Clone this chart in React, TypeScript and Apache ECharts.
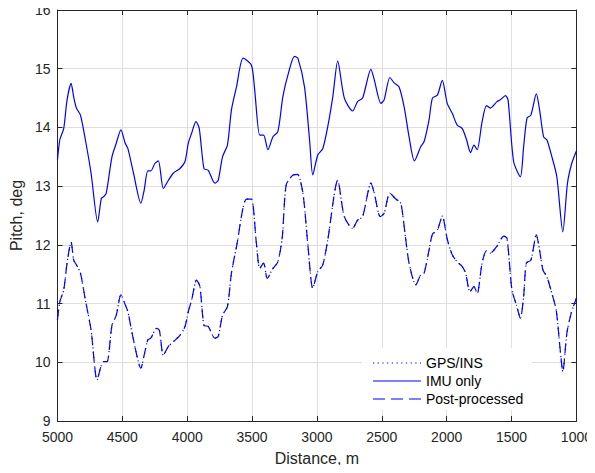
import React, { useEffect, useRef } from "react";
import * as echarts from "echarts";

const imuDist = [5000, 4982, 4952, 4926, 4895, 4875, 4854, 4823, 4785, 4741, 4690, 4662, 4644, 4624, 4580, 4547, 4511, 4478, 4457, 4414, 4357, 4332, 4304, 4281, 4248, 4222, 4184, 4145, 4107, 4056, 4017, 3992, 3966, 3933, 3907, 3871, 3838, 3787, 3761, 3728, 3690, 3659, 3620, 3569, 3505, 3480, 3441, 3411, 3378, 3339, 3301, 3263, 3224, 3173, 3147, 3096, 3057, 3032, 2994, 2955, 2917, 2878, 2840, 2789, 2725, 2687, 2648, 2584, 2558, 2507, 2482, 2438, 2405, 2367, 2328, 2290, 2249, 2200, 2174, 2136, 2110, 2072, 2034, 1996, 1957, 1919, 1880, 1847, 1816, 1790, 1765, 1727, 1693, 1663, 1612, 1586, 1547, 1527, 1484, 1432, 1407, 1381, 1351, 1309, 1284, 1253, 1228, 1189, 1151, 1105, 1069, 1036, 1000];
const imuPitch = [13.44, 13.79, 13.98, 14.47, 14.75, 14.52, 14.33, 14.21, 13.79, 13.22, 12.39, 12.79, 12.82, 12.88, 13.5, 13.73, 13.96, 13.73, 13.64, 13.22, 12.71, 12.93, 13.26, 13.26, 13.39, 13.43, 12.96, 13.1, 13.22, 13.3, 13.42, 13.73, 13.9, 14.1, 13.98, 13.3, 13.27, 13.05, 13.1, 13.5, 13.7, 14.3, 14.69, 15.18, 15.06, 14.64, 13.87, 13.87, 13.62, 13.84, 13.93, 14.52, 14.89, 15.21, 15.18, 14.69, 13.79, 13.19, 13.53, 13.64, 14.01, 14.52, 15.13, 14.5, 14.28, 14.44, 14.5, 14.99, 14.81, 14.41, 14.47, 14.85, 14.76, 14.69, 14.35, 13.84, 13.43, 13.67, 13.76, 14.13, 14.5, 14.55, 14.8, 14.41, 14.24, 14.04, 13.98, 13.79, 13.57, 13.7, 13.62, 14.1, 14.37, 14.33, 14.44, 14.47, 14.54, 14.47, 13.42, 13.16, 13.67, 14.16, 14.21, 14.57, 14.3, 13.84, 13.79, 13.5, 13.16, 12.22, 13.05, 13.39, 13.6];

const gpsDist = [5000, 4982, 4952, 4926, 4895, 4875, 4854, 4823, 4785, 4741, 4695, 4662, 4644, 4618, 4580, 4547, 4511, 4478, 4457, 4414, 4357, 4332, 4304, 4281, 4235, 4214, 4184, 4145, 4107, 4056, 4017, 3992, 3966, 3928, 3902, 3871, 3838, 3787, 3761, 3728, 3690, 3659, 3620, 3544, 3505, 3467, 3441, 3411, 3383, 3339, 3301, 3267, 3237, 3184, 3150, 3108, 3070, 3032, 2994, 2955, 2917, 2840, 2789, 2725, 2687, 2648, 2584, 2558, 2512, 2482, 2438, 2392, 2354, 2320, 2290, 2238, 2200, 2174, 2136, 2110, 2072, 2034, 1996, 1957, 1919, 1880, 1854, 1821, 1790, 1765, 1727, 1693, 1663, 1612, 1560, 1535, 1497, 1463, 1432, 1407, 1386, 1351, 1309, 1284, 1258, 1228, 1189, 1156, 1125, 1105, 1074, 1041, 1000];
const gpsPitch = [10.72, 11.03, 11.23, 11.69, 12.05, 11.74, 11.66, 11.52, 11.06, 10.55, 9.7, 9.95, 10.01, 10.01, 10.63, 10.8, 11.15, 10.98, 10.86, 10.38, 9.9, 10.12, 10.38, 10.41, 10.58, 10.54, 10.12, 10.27, 10.35, 10.46, 10.61, 10.86, 11.06, 11.4, 11.29, 10.63, 10.61, 10.41, 10.44, 10.8, 10.95, 11.52, 11.97, 12.78, 12.78, 12.03, 11.6, 11.69, 11.43, 11.6, 11.71, 12.14, 13.02, 13.19, 13.2, 12.88, 12.0, 11.26, 11.54, 11.66, 12.08, 13.1, 12.48, 12.28, 12.42, 12.48, 13.05, 12.88, 12.48, 12.54, 12.88, 12.78, 12.71, 12.17, 11.69, 11.32, 11.49, 11.52, 11.91, 12.18, 12.25, 12.49, 12.1, 11.83, 11.71, 11.63, 11.52, 11.2, 11.29, 11.17, 11.69, 11.9, 11.86, 11.98, 12.15, 12.11, 11.23, 10.98, 10.75, 11.12, 11.69, 11.74, 12.17, 11.91, 11.57, 11.46, 11.17, 10.89, 10.21, 9.84, 10.49, 10.83, 11.09];
const postPitch = gpsPitch;

const seriesNames = ["GPS/INS", "IMU only", "Post-processed"];

const FONT = "Liberation Sans, Helvetica, Arial, sans-serif";
const AX = "#262626";
const BLUE = "#0000ff";
const DOT = [1.2, 3.5];
const DASH = [10, 6];

export default function App() {
  const ref = useRef<HTMLDivElement>(null);
  useEffect(() => {
    if (!ref.current) return;
    const chart = echarts.init(ref.current, null, { renderer: "svg" });
    const pairs = (xs: number[], ys: number[]) => xs.map((x, i) => [x, ys[i]]);
    const xBase = {
      type: "value" as const,
      min: 1000,
      max: 5000,
      interval: 500,
      inverse: true,
    };
    const yBase = { type: "value" as const, min: 9, max: 16, interval: 1 };
    const legendDash = [DOT, null, [12, 6]];
    const legendEls: any[] = [
      { type: "rect", shape: { x: 362, y: 348, width: 170, height: 62 }, style: { fill: "#ffffff" }, z: 10 },
    ];
    seriesNames.forEach((nm, i) => {
      const y = 363 + i * 18;
      legendEls.push({
        type: "line",
        shape: { x1: 373, y1: y, x2: 421, y2: y },
        style: { stroke: BLUE, lineWidth: 1.2, lineDash: legendDash[i] || undefined },
        z: 11,
      });
      legendEls.push({
        type: "text",
        x: 426,
        y: y,
        style: { text: nm, fontSize: 14, fontFamily: FONT, fill: "#000", verticalAlign: "middle", align: "left" },
        z: 11,
      });
    });
    chart.setOption({
      animation: false,
      backgroundColor: "#ffffff",
      textStyle: { fontFamily: FONT },
      grid: { left: 57, top: 10, right: 17, bottom: 52, containLabel: false },
      graphic: legendEls,
      xAxis: [
        {
          ...xBase,
          position: "bottom",
          name: "Distance, m",
          nameLocation: "middle",
          nameGap: 29,
          nameTextStyle: { fontSize: 16, color: AX, fontFamily: FONT },
          axisLine: { show: true, lineStyle: { color: AX, width: 1 } },
          axisTick: { show: true, inside: true, length: 5, lineStyle: { color: AX } },
          axisLabel: { fontSize: 14, color: AX, margin: 9, fontFamily: FONT, formatter: (v: number) => String(v) },
          splitLine: { show: true, lineStyle: { color: "#dfdfdf", width: 1 } },
        },
        {
          ...xBase,
          position: "top",
          axisLine: { show: true, lineStyle: { color: AX, width: 1 } },
          axisTick: { show: true, inside: true, length: 5, lineStyle: { color: AX } },
          axisLabel: { show: false },
          splitLine: { show: false },
        },
      ],
      yAxis: [
        {
          ...yBase,
          position: "left",
          name: "Pitch, deg",
          nameLocation: "middle",
          nameGap: 31,
          nameTextStyle: { fontSize: 16, color: AX, fontFamily: FONT },
          axisLine: { show: true, lineStyle: { color: AX, width: 1 } },
          axisTick: { show: true, inside: true, length: 5, lineStyle: { color: AX } },
          axisLabel: { fontSize: 14, color: AX, margin: 7, fontFamily: FONT },
          splitLine: { show: true, lineStyle: { color: "#dfdfdf", width: 1 } },
        },
        {
          ...yBase,
          position: "right",
          axisLine: { show: true, lineStyle: { color: AX, width: 1 } },
          axisTick: { show: true, inside: true, length: 5, lineStyle: { color: AX } },
          axisLabel: { show: false },
          splitLine: { show: false },
        },
      ],
      series: [
        {
          name: seriesNames[0],
          type: "line",
          data: pairs(gpsDist, gpsPitch),
          symbol: "none",
          smooth: 0.25,
          lineStyle: { color: BLUE, width: 1.2, type: DOT },
          itemStyle: { color: BLUE },
          z: 3,
        },
        {
          name: seriesNames[1],
          type: "line",
          data: pairs(imuDist, imuPitch),
          symbol: "none",
          smooth: 0.25,
          lineStyle: { color: BLUE, width: 1.2, type: "solid" },
          itemStyle: { color: BLUE },
          z: 3,
        },
        {
          name: seriesNames[2],
          type: "line",
          data: pairs(gpsDist, postPitch),
          symbol: "none",
          smooth: 0.25,
          lineStyle: { color: BLUE, width: 1.2, type: DASH },
          itemStyle: { color: BLUE },
          z: 3,
        },
      ],
    });
    return () => chart.dispose();
  }, []);
  return <div ref={ref} style={{ width: 595, height: 473, margin: -8 }} />;
}
